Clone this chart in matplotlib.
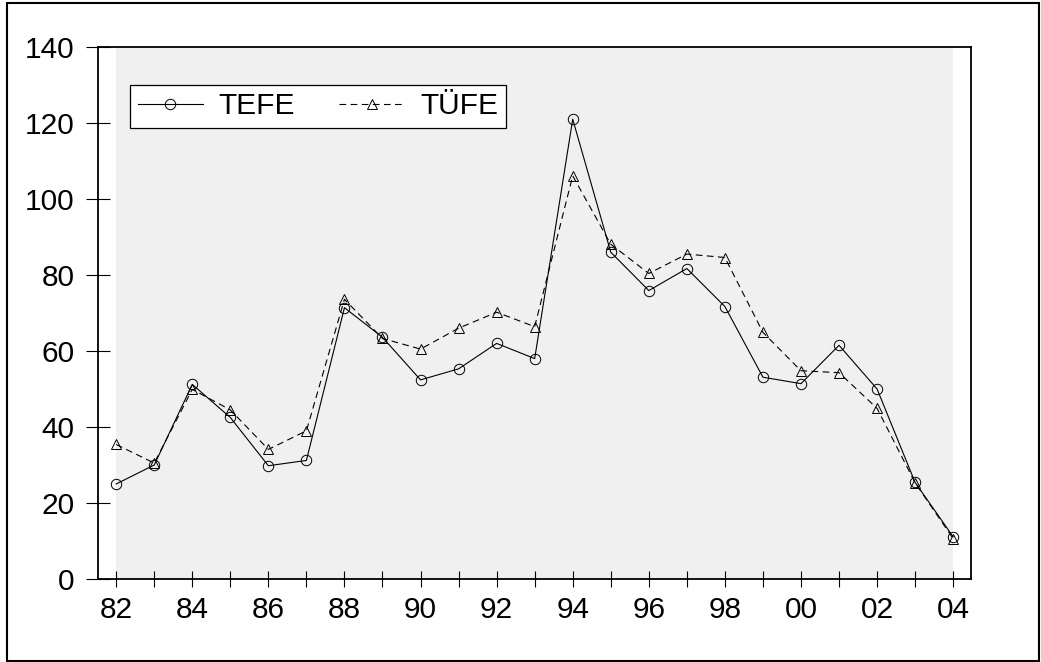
import matplotlib.pyplot as plt
from matplotlib.patches import Rectangle

plt.rcParams['font.family'] = ['Liberation Sans', 'DejaVu Sans']

# Data (yearly, 1982-2004)
years = ['82', '83', '84', '85', '86', '87', '88', '89', '90', '91', '92', '93',
         '94', '95', '96', '97', '98', '99', '00', '01', '02', '03', '04']
tefe = [25.0, 30.0, 51.2, 42.5, 29.8, 31.2, 71.4, 63.6, 52.4, 55.3, 62.0, 58.0,
        121.0, 86.0, 75.9, 81.7, 71.7, 53.1, 51.4, 61.5, 50.0, 25.4, 11.1]
tufe = [35.4, 30.5, 49.9, 44.5, 34.1, 39.0, 73.6, 63.3, 60.5, 66.0, 70.2, 66.4,
        106.1, 88.1, 80.4, 85.5, 84.6, 64.9, 54.8, 54.3, 44.9, 25.3, 10.6]

x = list(range(len(years)))

fig = plt.figure(figsize=(10.41, 6.62), dpi=100)
ax = fig.add_axes([0.0937, 0.1254, 0.9328 - 0.0937, 0.929 - 0.1254])

# grey shaded data area
ax.axvspan(x[0], x[-1], color='#f0f0f0', zorder=0, lw=0)

ax.plot(x, tefe, color='black', lw=0.8, marker='o', ms=7.5, mfc='none',
        mec='black', mew=0.7, label='TEFE')
ax.plot(x, tufe, color='black', lw=0.8, ls=(0, (6, 4)), marker='^', ms=7.5,
        mfc='none', mec='black', mew=0.7, label='TÜFE')

ax.set_xlim(-0.49, 22.47)
ax.set_ylim(0, 140)
ax.set_yticks(range(0, 141, 20))
ax.set_xticks(x)
ax.set_xticklabels([y if i % 2 == 0 else '' for i, y in enumerate(years)])

ax.tick_params(axis='y', direction='inout', length=17, width=0.8, labelsize=21.5, pad=8)
ax.tick_params(axis='x', direction='inout', length=12, width=0.8, labelsize=21.5, pad=6)
for s in ax.spines.values():
    s.set_linewidth(1.3)

leg = ax.legend(loc='upper left', bbox_to_anchor=(0.0372, 0.9286), ncol=2,
                fontsize=21.5, frameon=True, fancybox=False, edgecolor='black',
                handlelength=2.2, columnspacing=1.5, borderpad=0.25,
                handletextpad=0.5, borderaxespad=0)
leg.get_frame().set_linewidth(0.9)
leg.get_frame().set_facecolor('white')
leg.get_frame().set_alpha(1)

# outer frame around the whole picture
fig.patches.append(Rectangle((7 / 1041, 1 / 662), 1032 / 1041, 658 / 662,
                             transform=fig.transFigure, fill=False,
                             edgecolor='black', lw=1.5))

fig.savefig('out.png', dpi=100)
